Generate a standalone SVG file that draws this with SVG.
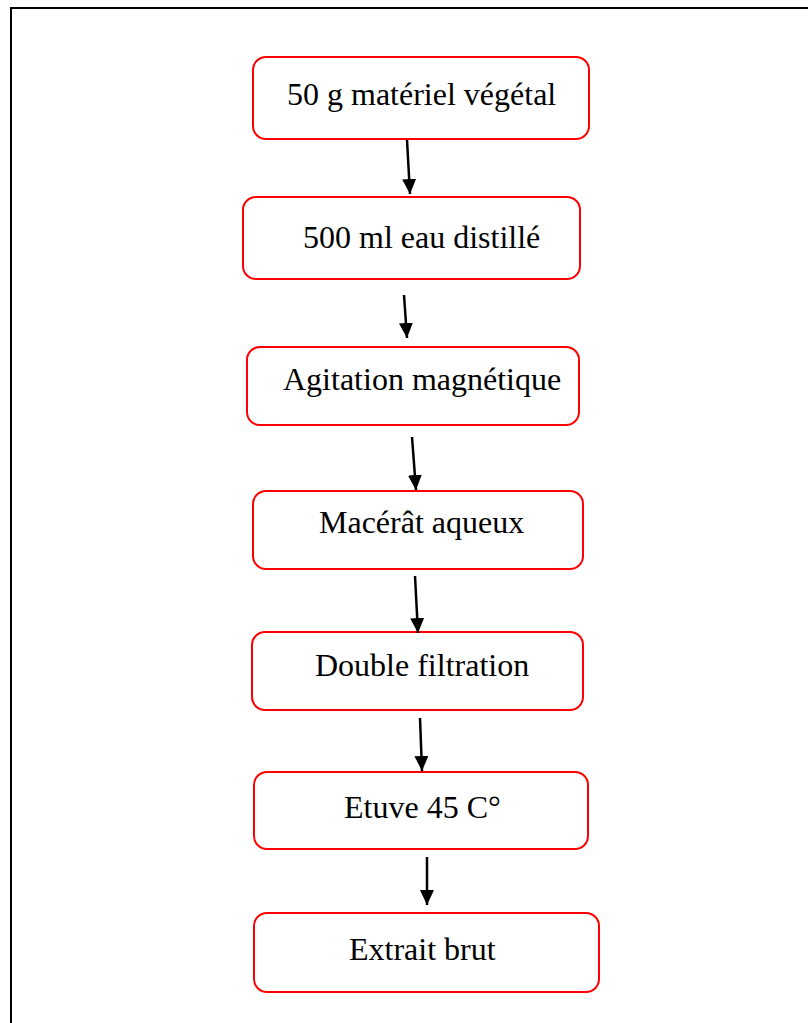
<svg xmlns="http://www.w3.org/2000/svg" width="808" height="1023" viewBox="0 0 808 1023">
<style>
.box{fill:#fff;stroke:#ff0000;stroke-width:2}
.lbl{font-family:"Liberation Serif","Times New Roman",serif;font-size:32px;fill:#000}
.conn{stroke:#000;stroke-width:2.5;fill:none}
</style>
<defs>
<marker id="ah" markerUnits="userSpaceOnUse" markerWidth="16" markerHeight="16" viewBox="0 0 16 16" refX="15" refY="8" orient="auto">
<path d="M0,1 L15,8 L0,15 Z" fill="#000"/>
</marker>
</defs>
<rect x="11" y="8" width="830" height="1040" fill="none" stroke="#000" stroke-width="2"/>
<g id="n1"><rect class="box" x="253" y="57" width="336" height="82" rx="13"/><text class="lbl" x="287" y="105">50 g matériel végétal</text></g>
<g id="n2"><rect class="box" x="243" y="197" width="337" height="82" rx="13"/><text class="lbl" x="303" y="248">500 ml eau distillé</text></g>
<g id="n3"><rect class="box" x="247" y="347" width="332" height="78" rx="13"/><text class="lbl" x="283" y="390">Agitation magnétique</text></g>
<g id="n4"><rect class="box" x="253" y="491" width="330" height="78" rx="13"/><text class="lbl" x="319" y="533">Macérât aqueux</text></g>
<g id="n5"><rect class="box" x="252" y="632" width="331" height="78" rx="13"/><text class="lbl" x="315" y="676">Double filtration</text></g>
<g id="n6"><rect class="box" x="254" y="772" width="334" height="77" rx="13"/><text class="lbl" x="344" y="818">Etuve 45 C°</text></g>
<g id="n7"><rect class="box" x="254" y="913" width="345" height="79" rx="13"/><text class="lbl" x="349" y="960">Extrait brut</text></g>
<g id="connectors">
<line class="conn" x1="407" y1="140" x2="410" y2="194" marker-end="url(#ah)"/>
<line class="conn" x1="404" y1="295" x2="407" y2="338" marker-end="url(#ah)"/>
<line class="conn" x1="412" y1="437" x2="416" y2="490" marker-end="url(#ah)"/>
<line class="conn" x1="415" y1="576" x2="418" y2="633" marker-end="url(#ah)"/>
<line class="conn" x1="420" y1="718" x2="422" y2="771" marker-end="url(#ah)"/>
<line class="conn" x1="427" y1="857" x2="427" y2="905" marker-end="url(#ah)"/>
</g>
</svg>
